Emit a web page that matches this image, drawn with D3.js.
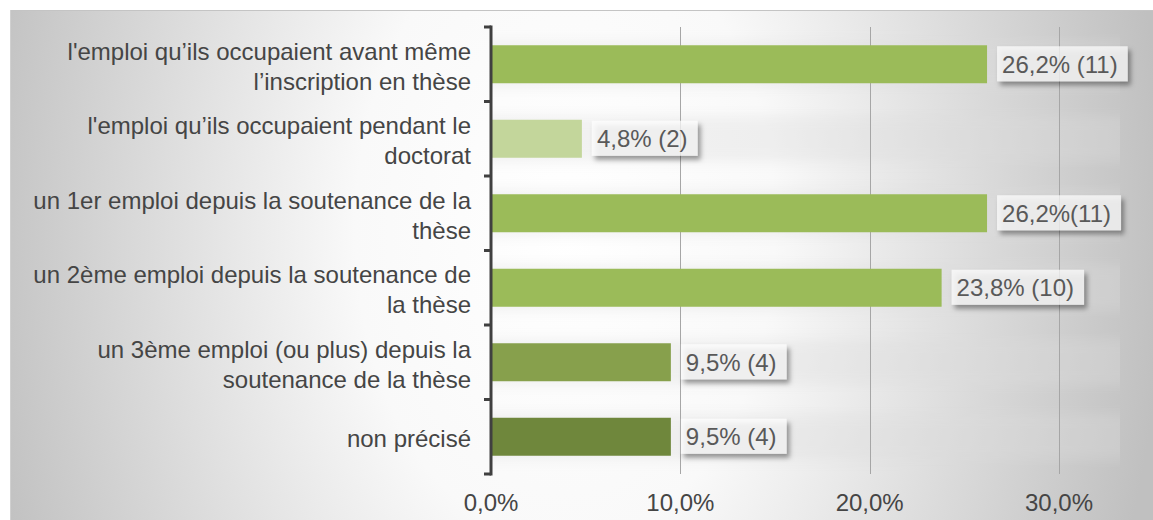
<!DOCTYPE html>
<html>
<head>
<meta charset="utf-8">
<script src="https://cdn.jsdelivr.net/npm/d3@7.9.0/dist/d3.min.js"></script>
<style>
  body { margin: 0; background: #fff; }
  svg { display: block; font-family: "Liberation Sans", Arial, sans-serif; }
</style>
</head>
<body>
<svg id="chart" width="1153" height="520"></svg>
<script>
// categories, each one split on two lines like the original
const categories = [
  ["l'emploi qu\u2019ils occupaient avant même", "l\u2019inscription en thèse"],
  ["l'emploi qu\u2019ils occupaient pendant le", "doctorat"],
  ["un 1er emploi depuis la soutenance de la", "thèse"],
  ["un 2ème emploi depuis la soutenance de", "la thèse"],
  ["un 3ème emploi (ou plus) depuis la", "soutenance de la thèse"],
  ["non précisé"]
];
const values = [26.2, 4.8, 26.2, 23.8, 9.5, 9.5];
const labels = ["26,2% (11)", "4,8% (2)", "26,2%(11)", "23,8% (10)", "9,5% (4)", "9,5% (4)"];
const barColors = ["#9bbb59", "#c3d69b", "#9bbb59", "#9bbb59", "#87a04c", "#6f873c"];
const xTicks = [0, 10, 20, 30];

const svg = d3.select('#chart');
const defs = svg.append('defs');

// soft background, white in the middle, grey on the sides
const grad = defs.append('radialGradient')
  .attr('id', 'bg').attr('gradientUnits', 'userSpaceOnUse')
  .attr('cx', 0).attr('cy', 0).attr('r', 600)
  .attr('gradientTransform', 'translate(565,230) scale(1,1.5)');
grad.append('stop').attr('offset', '0%').attr('stop-color', '#ffffff');
grad.append('stop').attr('offset', '35%').attr('stop-color', '#f9f9f9');
grad.append('stop').attr('offset', '100%').attr('stop-color', '#c0c0c0');

const shadow = defs.append('filter').attr('id', 'shadow')
  .attr('x', '-10%').attr('y', '-20%').attr('width', '130%').attr('height', '170%');
shadow.append('feDropShadow').attr('dx', 3).attr('dy', 4).attr('stdDeviation', 2.5)
  .attr('flood-color', '#000').attr('flood-opacity', 0.55);

const blur = defs.append('filter').attr('id', 'blur')
  .attr('x', '-5%').attr('y', '-50%').attr('width', '110%').attr('height', '200%');
blur.append('feGaussianBlur').attr('stdDeviation', '0 6');

svg.append('rect').attr('x', 10).attr('y', 10).attr('width', 1143).attr('height', 510)
  .attr('fill', 'url(#bg)');
svg.append('line').attr('x1', 10).attr('x2', 1153).attr('y1', 10.5).attr('y2', 10.5)
  .attr('stroke', '#c4c4c4');
svg.append('line').attr('x1', 10.5).attr('x2', 10.5).attr('y1', 10).attr('y2', 520)
  .attr('stroke', '#d0d0d0');

const margin = { left: 491, top: 27, bottom: 474 };
const x = d3.scaleLinear().domain([0, 30]).range([491, 1059]);
const y = d3.scaleBand().domain(d3.range(categories.length))
  .range([margin.top, margin.bottom]).paddingInner(0.49).paddingOuter(0.245);

// faint horizontal bands behind bars
svg.append('g').selectAll('rect').data(values).join('rect')
  .attr('x', margin.left).attr('width', 1120 - margin.left)
  .attr('y', (d, i) => y(i) - 4).attr('height', y.bandwidth() + 8)
  .attr('fill', '#dcdcdc').attr('opacity', 0.35).attr('filter', 'url(#blur)');

// gridlines
svg.append('g').selectAll('line').data(xTicks.slice(1)).join('line')
  .attr('x1', d => Math.round(x(d)) + 0.5).attr('x2', d => Math.round(x(d)) + 0.5)
  .attr('y1', margin.top).attr('y2', margin.bottom)
  .attr('stroke', '#a6a6a6').attr('stroke-width', 1);

// bars
svg.append('g').selectAll('rect').data(values).join('rect')
  .attr('x', x(0)).attr('y', (d, i) => y(i))
  .attr('width', d => x(d) - x(0)).attr('height', y.bandwidth())
  .attr('fill', (d, i) => barColors[i]);

// value labels in boxes
const lab = svg.append('g').selectAll('g').data(values).join('g')
  .attr('transform', (d, i) => `translate(${x(d) + 10},${y(i) + y.bandwidth() / 2})`);
const txt = lab.append('text')
  .attr('x', 5).attr('dy', '0.36em')
  .attr('font-size', 24).attr('fill', '#595959')
  .text((d, i) => labels[i]);
txt.each(function () {
  const w = this.getComputedTextLength();
  d3.select(this.parentNode).insert('rect', 'text')
    .attr('x', 0).attr('y', -18).attr('width', w + 15).attr('height', 35)
    .attr('fill', '#fff').attr('fill-opacity', 0.7).attr('filter', 'url(#shadow)');
});

// y axis with outward ticks
const axisY = svg.append('g');
axisY.append('line').attr('x1', 491).attr('x2', 491)
  .attr('y1', margin.top - 1.5).attr('y2', margin.bottom + 1.5)
  .attr('stroke', '#404040').attr('stroke-width', 3);
const tickYs = d3.range(categories.length + 1).map(i => margin.top + i * y.step());
axisY.selectAll('.tk').data(tickYs).join('line').attr('class', 'tk')
  .attr('x1', 484).attr('x2', 491).attr('y1', d => d).attr('y2', d => d)
  .attr('stroke', '#404040').attr('stroke-width', 3);

// category labels
const catG = svg.append('g').selectAll('text').data(categories).join('text')
  .attr('text-anchor', 'end').attr('font-size', 24).attr('fill', '#454545')
  .attr('transform', (d, i) => `translate(471,${y(i) + y.bandwidth() / 2 + 2})`);
catG.selectAll('tspan').data(d => d.map((line, j) => ({ line, j, n: d.length }))).join('tspan')
  .attr('x', 0)
  .attr('y', d => (d.j - (d.n - 1) / 2) * 30)
  .attr('dy', '0.36em')
  .text(d => d.line);

// x tick labels
svg.append('g').selectAll('text').data(xTicks).join('text')
  .attr('x', d => x(d)).attr('y', 502).attr('dy', '0.36em')
  .attr('text-anchor', 'middle').attr('font-size', 24).attr('fill', '#454545')
  .text(d => d3.format('.1f')(d).replace('.', ',') + '%');
</script>
</body>
</html>
